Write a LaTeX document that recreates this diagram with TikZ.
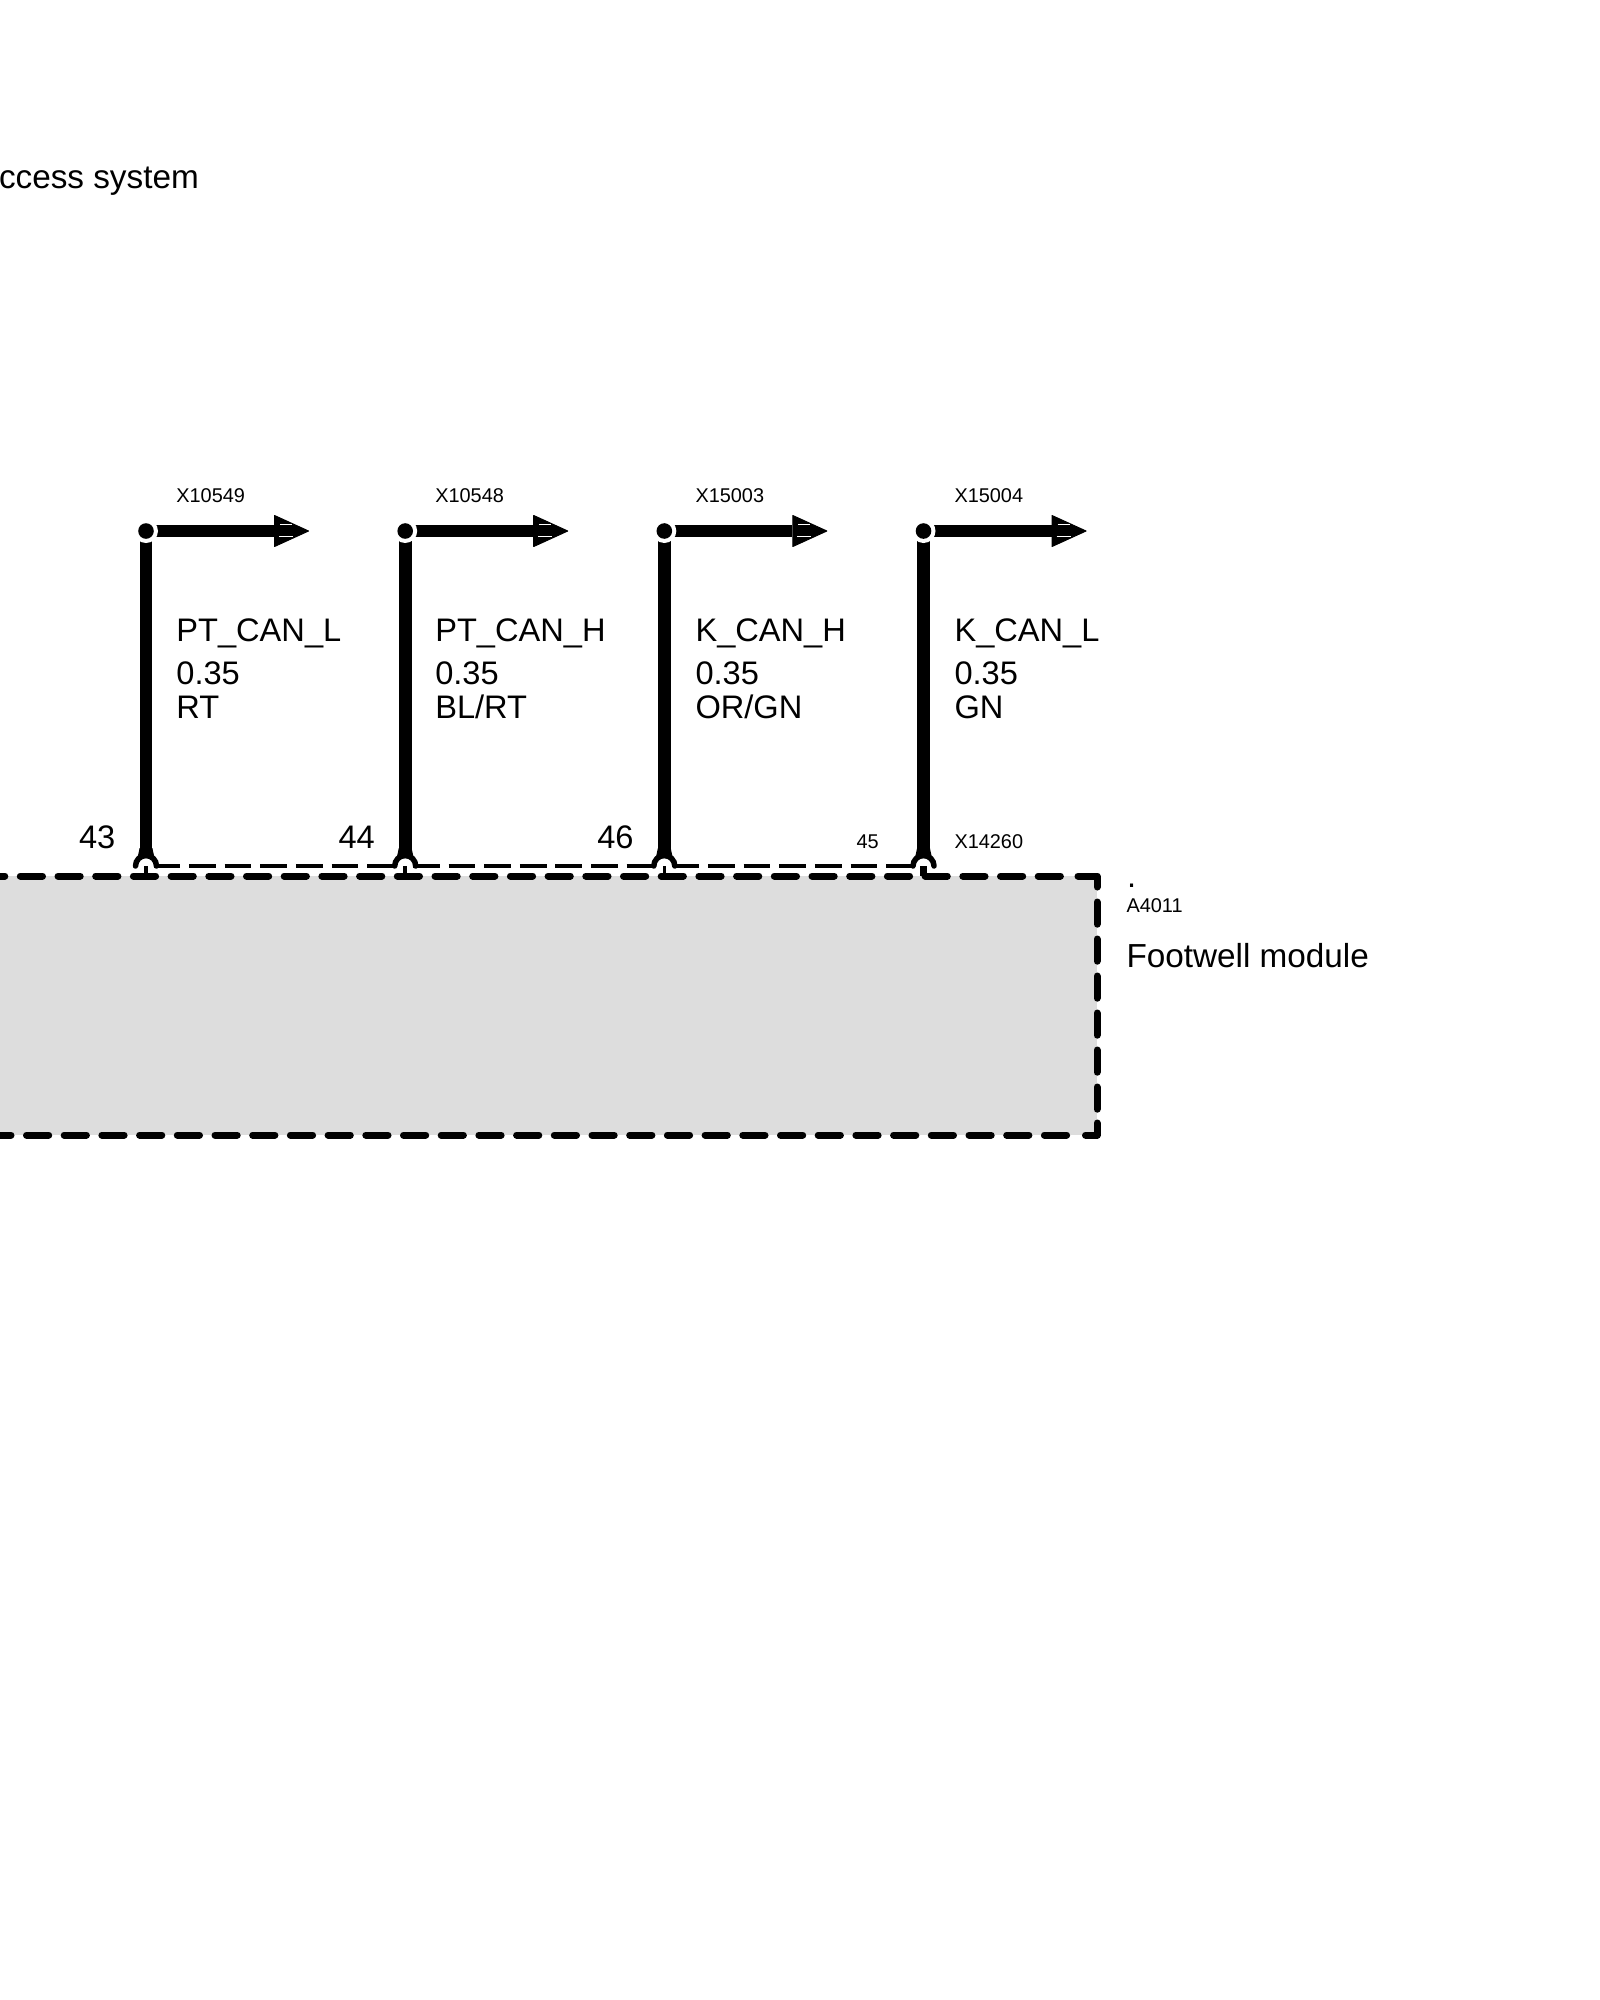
\documentclass[tikz,border=0pt]{standalone}
\usepackage{fontspec}
\setmainfont{Liberation Sans}
\definecolor{boxgray}{RGB}{221,221,221}
\tikzset{
  big/.style={anchor=base west,inner sep=0pt,outer sep=0pt,font=\fontsize{32.6}{36}\selectfont},
  bigger/.style={anchor=base west,inner sep=0pt,outer sep=0pt,font=\fontsize{33.3}{36}\selectfont},
  small/.style={anchor=base west,inner sep=0pt,outer sep=0pt,font=\fontsize{19.9}{22}\selectfont},
  wire/.style={line width=12.8pt,line cap=butt},
  shaft/.style={line width=12.2pt,line cap=butt},
  boxline/.style={line width=7pt,line cap=round,line join=round},
  boxdash/.style={boxline,dash pattern=on 22.2pt off 15.5pt},
  sidedash/.style={boxline,dash pattern=on 22.2pt off 14.8pt},
  thindash/.style={line width=4pt,dash pattern=on 26.7pt off 8.9pt},
  pinarc/.style={line width=5.5pt,line cap=round},
}
\newcommand{\wirepin}[2]{%
  \coordinate (j#1) at (#2,531);
  \coordinate (c#1) at (#2,866);
  \coordinate (h#1) at (#2+128,531);
  \draw[wire] (c#1) ++(0,-10.5) -- (j#1);
  \draw[shaft] (j#1) -- (h#1);
  \fill[white] (j#1) circle (12);
  \fill[black] (j#1) circle (7.8);
  \fill[black,draw=black,line width=1pt,line join=round] (#2+128.5,515.5) -- (#2+162.5,531) -- (#2+128.5,546.5) -- cycle;
  \draw[white,line width=.7pt] (#2+134,524) -- (#2+146,524) (#2+133,536.5) -- (#2+147,536.5);
  \fill[black] (#2-6.4,848) -- (#2+6.4,848) -- (#2+8.5,858) -- (#2-8.5,858) -- cycle;
  \draw[pinarc] (#2-10.5,866) arc[start angle=180,end angle=360,radius=10.5];
}
\begin{document}
\begin{tikzpicture}[x=1pt,y=-1pt]
\useasboundingbox (0,0) rectangle (1600,2000);
\fill[white] (0,0) rectangle (1600,2000);
\fill[boxgray] (0,876) rectangle (1097,1135);
% thin dashed line
\coordinate (d1) at (153.5,865.5); \coordinate (d1e) at (393.5,865.5);
\coordinate (d2) at (413,865.5);   \coordinate (d2e) at (653,865.5);
\coordinate (d3) at (672.5,865.5); \coordinate (d3e) at (912,865.5);
\draw[thindash] (d1) -- (d1e);
\draw[thindash] (d2) -- (d2e);
\draw[thindash] (d3) -- (d3e);
% box outline
\draw[boxdash] (-17.4,876) -- (1066,876);
\draw[boxline] (1078,876) -- (1097,876) -- (1097,887);
\draw[sidedash] (1097,902) -- (1097,1110);
\draw[boxline] (1097,1123) -- (1097,1135) -- (1085.5,1135);
\draw[boxdash] (-11.2,1135) -- (1071,1135);
% wires
\wirepin{a}{146}
\wirepin{b}{405.2}
\wirepin{c}{664.3}
\wirepin{d}{923.5}
\draw[line width=3.5pt] (ca) -- (146,876);
\draw[line width=3.5pt] (cb) -- (405.2,876);
\draw[line width=3.5pt] (cc) -- (664.3,876);
\draw[boxline,line cap=butt] (cd) -- (923.5,876);
% texts
\node[bigger] (title) at (-1,188.5) {ccess system};
\node[small] (xa) at (176.4,502) {X10549};
\node[small] (xb) at (435.3,502) {X10548};
\node[small] (xc) at (695.5,502) {X15003};
\node[small] (xd) at (954.5,502) {X15004};
\node[big] (na) at (176.4,641) {PT\_CAN\_L};
\node[big] (nb) at (435.3,641) {PT\_CAN\_H};
\node[big] (nc) at (695.5,641) {K\_CAN\_H};
\node[big] (nd) at (954.5,641) {K\_CAN\_L};
\node[big] (sa) at (176.4,684) {0.35};
\node[big] (sb) at (435.3,684) {0.35};
\node[big] (sc) at (695.5,684) {0.35};
\node[big] (sd) at (954.5,684) {0.35};
\node[big] (ca1) at (176.4,718) {RT};
\node[big] (cb1) at (435.3,718) {BL/RT};
\node[big] (cc1) at (695.5,718) {OR/GN};
\node[big] (cd1) at (954.5,718) {GN};
\node[big] (p43) at (79,848) {43};
\node[big] (p44) at (338.5,848) {44};
\node[big] (p46) at (597.3,848) {46};
\node[small] (p45) at (856.5,848) {45};
\node[small] (conn) at (954.5,848) {X14260};
\node[big] (dot) at (1127,887) {.};
\node[small] (aid) at (1126.5,912) {A4011};
\node[bigger] (mod) at (1126.5,967) {Footwell module};
\end{tikzpicture}
\end{document}
